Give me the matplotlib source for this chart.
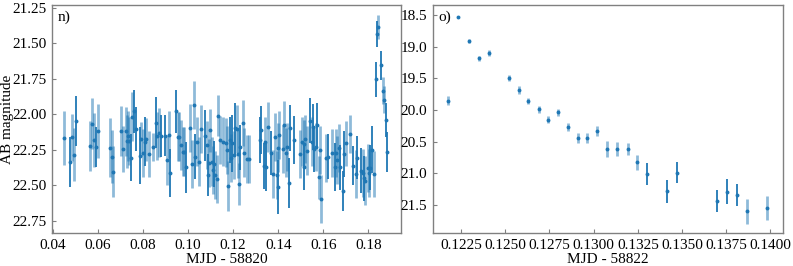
import matplotlib
matplotlib.use("Agg")
import matplotlib.pyplot as plt

# ---- Panel n) data (MJD - 58820, AB magnitude, error) ----
n_dark_x = [0.04762, 0.05030, 0.05925, 0.07446, 0.07581, 0.07670, 0.07849, 0.08073, 0.08565, 0.08789,
            0.08967, 0.09191, 0.09460, 0.09907, 0.10310, 0.10742, 0.10862, 0.11145, 0.11846, 0.11965,
            0.12085, 0.12323, 0.13173, 0.13233, 0.13352, 0.13471, 0.13665, 0.14008, 0.14471, 0.14501,
            0.14680, 0.15157, 0.15425, 0.15544, 0.15604, 0.15723, 0.16200, 0.16514, 0.16752, 0.16857,
            0.16902, 0.17304, 0.17513, 0.17677, 0.17797, 0.18095, 0.18169, 0.18318, 0.18378, 0.18542,
            0.18780, 0.18825]
n_dark_y = [22.332, 22.045, 22.231, 22.304, 21.979, 22.104, 22.292, 22.191, 22.057, 22.151,
            22.151, 22.410, 21.979, 22.372, 22.297, 22.151, 22.426, 22.349, 22.179, 22.203,
            22.097, 22.231, 22.179, 22.109, 22.363, 22.372, 22.273, 22.509, 22.485, 22.097,
            22.179, 22.372, 22.043, 22.090, 22.245, 22.073, 22.297, 22.372, 22.372, 22.539,
            22.280, 22.360, 22.304, 22.396, 22.450, 22.374, 22.250, 21.754, 21.434, 21.655,
            22.038, 22.262]
n_dark_e = [0.176, 0.176, 0.14, 0.165, 0.15, 0.153, 0.2, 0.17, 0.18, 0.15,
            0.145, 0.17, 0.15, 0.18, 0.16, 0.18, 0.15, 0.16, 0.16, 0.2,
            0.18, 0.16, 0.16, 0.17, 0.16, 0.165, 0.153, 0.19, 0.176, 0.16,
            0.17, 0.16, 0.16, 0.16, 0.16, 0.153, 0.16, 0.17, 0.16, 0.14,
            0.16, 0.14, 0.153, 0.16, 0.16, 0.16, 0.165, 0.12, 0.09, 0.10,
            0.12, 0.14]

n_light_x = [0.04509, 0.04851, 0.04941, 0.05657, 0.05717, 0.05821, 0.06000, 0.06552, 0.06612, 0.06671,
             0.07039, 0.07099, 0.07263, 0.07323, 0.07297, 0.07372, 0.07521, 0.07924, 0.07999, 0.08148,
             0.08252, 0.08446, 0.08625, 0.08699, 0.09072, 0.09146, 0.09564, 0.09609, 0.09669, 0.09758,
             0.09818, 0.10086, 0.10161, 0.10265, 0.10414, 0.10474, 0.10593, 0.10817, 0.10921, 0.10981,
             0.11041, 0.11086, 0.11190, 0.11265, 0.11339, 0.11413, 0.11533, 0.11667, 0.11727, 0.11771,
             0.11906, 0.12040, 0.12159, 0.12234, 0.12278, 0.12442, 0.12502, 0.12606, 0.12681, 0.13427,
             0.13561, 0.13784, 0.13859, 0.13934, 0.13978, 0.14053, 0.14202, 0.14277, 0.14351, 0.14411,
             0.14978, 0.15052, 0.15127, 0.15202, 0.15276, 0.15485, 0.15678, 0.15798, 0.15843, 0.15902,
             0.16126, 0.16394, 0.16559, 0.16618, 0.16678, 0.17021, 0.17200, 0.17453, 0.17856, 0.17976,
             0.18050, 0.17752, 0.18259, 0.18437, 0.18631, 0.18706]
n_light_y = [22.167, 22.160, 22.283, 22.222, 22.066, 22.179, 22.120, 22.233, 22.297, 22.403,
             22.120, 22.243, 22.120, 22.151, 22.189, 22.186, 22.015, 22.172, 22.273, 22.175,
             22.278, 22.231, 22.151, 22.128, 22.320, 22.144, 22.156, 22.156, 22.215, 22.262,
             22.262, 22.097, 22.349, 21.932, 22.191, 22.332, 22.104, 22.215, 22.344, 22.113,
             22.332, 22.391, 22.426, 22.457, 22.010, 22.179, 22.191, 22.198, 22.250, 22.502,
             22.309, 22.285, 22.104, 22.278, 22.490, 22.062, 22.269, 22.313, 22.313, 22.191,
             22.090, 22.419, 22.160, 22.426, 22.233, 22.144, 22.245, 22.073, 22.269, 22.231,
             22.278, 22.191, 22.207, 22.172, 22.255, 22.191, 22.231, 22.443, 22.250, 22.598,
             22.309, 22.273, 22.273, 22.320, 22.238, 22.203, 22.139, 22.421, 22.466, 22.379,
             22.414, 22.414, 22.421, 21.387, 21.834, 21.897]
n_light_e = [0.188, 0.165, 0.188, 0.176, 0.179, 0.188, 0.19, 0.21, 0.188, 0.179,
             0.176, 0.16, 0.174, 0.176, 0.188, 0.17, 0.17, 0.12, 0.17, 0.15,
             0.16, 0.10, 0.17, 0.17, 0.176, 0.165, 0.17, 0.17, 0.176, 0.17,
             0.17, 0.17, 0.17, 0.17, 0.17, 0.17, 0.17, 0.17, 0.17, 0.15,
             0.17, 0.17, 0.17, 0.17, 0.144, 0.17, 0.17, 0.17, 0.17, 0.176,
             0.17, 0.17, 0.17, 0.17, 0.15, 0.16, 0.17, 0.17, 0.17, 0.17,
             0.176, 0.17, 0.17, 0.17, 0.17, 0.17, 0.17, 0.17, 0.17, 0.17,
             0.17, 0.17, 0.17, 0.17, 0.17, 0.17, 0.17, 0.153, 0.17, 0.17,
             0.17, 0.17, 0.17, 0.17, 0.17, 0.16, 0.135, 0.17, 0.17, 0.17,
             0.17, 0.17, 0.16, 0.085, 0.094, 0.094]

# ---- Panel o) data (MJD - 58822, AB magnitude, error) ----
o_dark_x = [0.13303, 0.13416, 0.13472, 0.13698, 0.13754, 0.13811]
o_dark_y = [21.012, 21.28, 20.99, 21.433, 21.286, 21.343]
o_dark_e = [0.17, 0.18, 0.165, 0.173, 0.2, 0.173]

o_light_x = [0.12178, 0.12234, 0.12293, 0.12349, 0.12406, 0.12519, 0.12575, 0.12631, 0.12688, 0.12742,
             0.12798, 0.12855, 0.12911, 0.12964, 0.13021, 0.13077, 0.13134, 0.13192, 0.13247, 0.13867,
             0.13982]
o_light_y = [19.851, 18.532, 18.910, 19.183, 19.099, 19.494, 19.678, 19.857, 19.988, 20.152,
             20.036, 20.27, 20.44, 20.44, 20.33, 20.613, 20.613, 20.618, 20.822, 21.596,
             21.544]
o_light_e = [0.075, 0.01, 0.03, 0.043, 0.04, 0.048, 0.06, 0.053, 0.053, 0.056,
             0.059, 0.061, 0.085, 0.072, 0.083, 0.125, 0.107, 0.093, 0.12, 0.2,
             0.187]

n_xticks = [0.04, 0.06, 0.08, 0.10, 0.12, 0.14, 0.16, 0.18]
n_yticks = [21.25, 21.50, 21.75, 22.00, 22.25, 22.50, 22.75]
o_xticks = [0.1225, 0.1250, 0.1275, 0.1300, 0.1325, 0.1350, 0.1375, 0.1400]
o_yticks = [18.5, 19.0, 19.5, 20.0, 20.5, 21.0, 21.5]

plt.rcParams['font.family'] = ['Liberation Serif', 'DejaVu Serif']
plt.rcParams['font.size'] = 11

fig = plt.figure(figsize=(7.93, 2.66), dpi=100)
ax1 = fig.add_axes([0.0656, 0.124, 0.4401, 0.857])
ax2 = fig.add_axes([0.546, 0.124, 0.441, 0.857])

C = '#1f77b4'

def draw(ax, lx, ly, le, dx, dy, de):
    ax.errorbar(lx, ly, yerr=le, fmt='none', ecolor=C, elinewidth=2.0,
                alpha=0.5, capsize=0)
    ax.errorbar(dx, dy, yerr=de, fmt='none', ecolor=C, elinewidth=1.3, capsize=0)
    ax.plot(lx, ly, 'o', ms=2.8, color=C, mew=0)
    ax.plot(dx, dy, 'o', ms=2.8, color=C, mew=0)

draw(ax1, n_light_x, n_light_y, n_light_e, n_dark_x, n_dark_y, n_dark_e)
draw(ax2, o_light_x, o_light_y, o_light_e, o_dark_x, o_dark_y, o_dark_e)

ax1.set_xlim(0.0396, 0.1945)
ax1.set_ylim(22.835, 21.23)
ax1.set_xticks(n_xticks)
ax1.set_xticklabels([f"{v:.2f}" for v in n_xticks])
ax1.set_yticks(n_yticks)
ax1.set_yticklabels([f"{v:.2f}" for v in n_yticks])
ax1.set_xlabel('MJD - 58820', labelpad=1)
ax1.set_ylabel('AB magnitude')
ax1.yaxis.set_label_coords(-0.108, 0.5)
ax1.text(0.015, 0.975, 'n)', transform=ax1.transAxes, ha='left', va='top', fontsize=11)

ax2.set_xlim(0.12091, 0.14069)
ax2.set_ylim(21.94, 18.342)
ax2.set_xticks(o_xticks)
ax2.set_xticklabels([f"{v:.4f}" for v in o_xticks])
ax2.set_yticks(o_yticks)
ax2.set_yticklabels([f"{v:.1f}" for v in o_yticks])
ax2.set_xlabel('MJD - 58822', labelpad=1)
ax2.text(0.015, 0.975, 'o)', transform=ax2.transAxes, ha='left', va='top', fontsize=11)

for ax in (ax1, ax2):
    for s in ax.spines.values():
        s.set_color('#808080')
        s.set_linewidth(1.0)
    ax.tick_params(direction='in', length=3, width=0.8, color='#808080', labelsize=11, pad=4)

fig.savefig('out.png', dpi=100)
